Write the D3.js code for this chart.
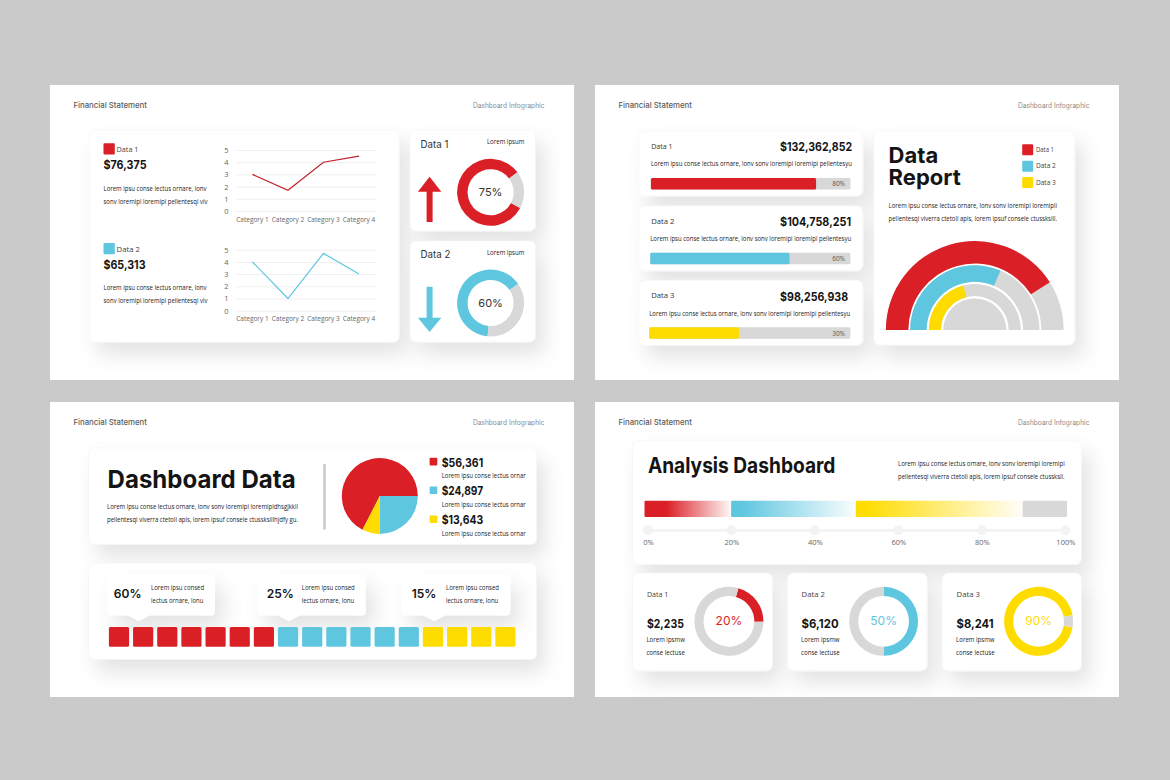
<!DOCTYPE html>
<html>
<head>
<meta charset="utf-8">
<script src="https://cdn.jsdelivr.net/npm/d3@7"></script>
<style>
    html, body { margin: 0; padding: 0; background: #cacaca; }
    svg { display: block; }
    .axis .domain { display: none; }
    .axis text { font-family: "Open Sans", sans-serif; fill: #666; }
    .grid line { stroke: #efefef; stroke-width: 1; }
</style>
</head>
<body>
<div id="chart"></div>
<script>
// colours
var red = "#da1f26";
var blue = "#5fc6e0";
var yellow = "#ffdc00";
var gray = "#d8d8d8";
var dark = "#141414";

// top left: line charts and donuts
var categories = ["Category 1", "Category 2", "Category 3", "Category 4"];
var lineTicks = [0, 1, 2, 3, 4, 5];
var line1Values = [3, 1.7, 4, 4.5];
var line2Values = [4, 1, 4.7, 3];
var line1Total = "$76,375";
var line2Total = "$65,313";
var topDonut1Share = [82, 18];
var topDonut2Share = [64, 36];
var topDonutLabels = ["75%", "60%"];

// top right: progress bars and half rings
var barNames = ["Data 1", "Data 2", "Data 3"];
var barTotals = ["$132,362,852", "$104,758,251", "$98,256,938"];
var barValues = [82.8, 69.6, 44.6];
var barLabels = ["80%", "60%", "30%"];
var ringValues = [82, 63, 42];

// bottom left: pie and waffle
var pieValues = [67.5, 25, 7.5];
var pieTotals = ["$56,361", "$24,897", "$13,643"];
var waffleCounts = [7, 6, 4];
var calloutLabels = ["60%", "25%", "15%"];

// bottom right: stacked gradient bar and donuts
var stackValues = [20.5, 29.5, 39.5, 10.5];
var stackTicks = [0, 20, 40, 60, 80, 100];
var smallNames = ["Data 1", "Data 2", "Data 3"];
var smallTotals = ["$2,235", "$6,120", "$8,241"];
var smallShares = [20.8, 50, 94.4];
var smallLabels = ["20%", "50%", "90%"];

var svg = d3.select("#chart")
    .append("svg")
    .attr("width", 1170)
    .attr("height", 780);

var defs = svg.append("defs");

var shadow = defs.append("filter")
    .attr("id", "shadow")
    .attr("x", "-20%").attr("y", "-25%")
    .attr("width", "150%").attr("height", "175%");
shadow.append("feDropShadow")
    .attr("dx", 8).attr("dy", 12)
    .attr("stdDeviation", 10)
    .attr("flood-color", "#000")
    .attr("flood-opacity", 0.11);

var TAU = Math.PI * 2;
var bodyFont = '"Open Sans", sans-serif';
var headFont = 'Inter, sans-serif';

// y is the vertical centre of the text unless o.baseline is set
function label(x, y, str, o) {
    o = o || {};
    var t = svg.append("text")
        .attr("x", x)
        .attr("y", y)
        .attr("font-family", o.family || bodyFont)
        .attr("font-size", o.size || 6.2)
        .attr("font-weight", o.weight || 400)
        .attr("fill", o.fill || "#222")
        .attr("text-anchor", o.anchor || "start")
        .text(str);
    if (!o.baseline) t.attr("dominant-baseline", "central");
    if (o.width) t.attr("textLength", o.width).attr("lengthAdjust", "spacingAndGlyphs");
    return t;
}

// "Data 1" is a bit narrower than the others in the reference
function nameWidth(name, wide) {
    return name == "Data 1" ? wide - 1.9 : wide;
}

function card(x0, y0, x1, y1) {
    svg.append("rect")
        .attr("x", x0).attr("y", y0)
        .attr("width", x1 - x0).attr("height", y1 - y0)
        .attr("rx", 6)
        .attr("fill", "#fff")
        .attr("stroke", "#f3f3f3")
        .attr("stroke-width", 0.6)
        .attr("filter", "url(#shadow)");
}

function slide(x, y) {
    svg.append("rect")
        .attr("x", x).attr("y", y)
        .attr("width", 524).attr("height", 295)
        .attr("fill", "#fff");
    label(x + 23.4, y + 20, "Financial Statement", {size: 8, weight: 500, fill: "#5c5c5c", family: headFont, width: 73.6});
    label(x + 494.5, y + 20, "Dashboard Infographic", {size: 7, fill: "#8c8c8c", anchor: "end", family: headFont, width: 71.6});
}

function swatch(x, y, size, color) {
    svg.append("rect")
        .attr("x", x).attr("y", y)
        .attr("width", size).attr("height", size)
        .attr("rx", 1)
        .attr("fill", color);
}

// two slice donut; start is in degrees clockwise from the top
function donut(cx, cy, outer, inner, share, color, start) {
    var pie = d3.pie().sort(null)
        .startAngle(start * Math.PI / 180)
        .endAngle(start * Math.PI / 180 + TAU);
    var arc = d3.arc().innerRadius(inner).outerRadius(outer);
    svg.append("g")
        .attr("transform", "translate(" + cx + "," + cy + ")")
        .selectAll("path")
        .data(pie(share))
        .enter()
        .append("path")
        .attr("d", arc)
        .attr("fill", function(d, i) { return i == 0 ? color : gray; });
}

function lineChart(values, top, color) {
    var x = d3.scaleBand().domain(categories).range([234.7, 376.7]);
    var y = d3.scaleLinear().domain([0, 5]).range([top + 61, top]);

    var yAxis = svg.append("g")
        .attr("class", "axis grid")
        .attr("transform", "translate(235.8,0)")
        .call(d3.axisLeft(y).tickValues(lineTicks).tickFormat(d3.format("d")).tickSize(-140.6));
    yAxis.selectAll("text")
        .attr("font-size", 7.5)
        .attr("text-anchor", "middle")
        .attr("x", -9.4);

    svg.append("g")
        .attr("class", "axis")
        .attr("transform", "translate(0," + (top + 61) + ")")
        .call(d3.axisBottom(x).tickSize(0).tickPadding(6))
        .selectAll("text")
        .attr("font-size", 6.5);

    var line = d3.line()
        .x(function(d, i) { return x(categories[i]) + x.bandwidth() / 2; })
        .y(function(d) { return y(d); });

    svg.append("path")
        .datum(values)
        .attr("d", line)
        .attr("fill", "none")
        .attr("stroke", color)
        .attr("stroke-width", 1.2);
}

function arrow(cx, y0, yBase, y1, color) {
    var p = d3.path();
    p.moveTo(cx, y0);
    p.lineTo(cx + 11.7, yBase);
    p.lineTo(cx + 3, yBase);
    p.lineTo(cx + 3, y1);
    p.lineTo(cx - 3, y1);
    p.lineTo(cx - 3, yBase);
    p.lineTo(cx - 11.7, yBase);
    p.closePath();
    svg.append("path").attr("d", p.toString()).attr("fill", color);
}

// ---- top left slide
slide(50, 85);
card(89.2, 130, 399, 342);
card(410, 130, 535.5, 231);
card(410, 241, 535.5, 342);

swatch(103.5, 143.2, 11.3, red);
label(116.6, 148.3, "Data 1", {size: 8, fill: "#444", width: 21.8});
label(103.5, 169.3, line1Total, {size: 12, weight: 700, family: headFont, fill: dark, baseline: true, width: 43});
label(103.5, 188.7, "Lorem ipsu conse lectus ornare, lonv", {width: 103});
label(103.5, 201.7, "sonv loremipi loremipi pellentesqi viv", {width: 104});
lineChart(line1Values, 150, "#c0202a");

swatch(103.5, 243, 11.3, blue);
label(116.6, 248, "Data 2", {size: 8, fill: "#444", width: 23.4});
label(103.5, 269, line2Total, {size: 12, weight: 700, family: headFont, fill: dark, baseline: true, width: 42});
label(103.5, 287.3, "Lorem ipsu conse lectus ornare, lonv", {width: 103});
label(103.5, 300.7, "sonv loremipi loremipi pellentesqi viv", {width: 104});
lineChart(line2Values, 249.7, blue);

label(420.6, 144, "Data 1", {size: 10.5, family: headFont, fill: "#333", width: 27.8});
label(524.4, 141.7, "Lorem ipsum", {anchor: "end", width: 37.5});
arrow(429.6, 176.7, 191.7, 222, red);
donut(490.6, 192.3, 33.5, 23, topDonut1Share, red, 118);
label(490.6, 192.3, topDonutLabels[0], {size: 11, anchor: "middle", family: headFont, fill: "#333"});

label(420.6, 254.7, "Data 2", {size: 10.5, family: headFont, fill: "#333", width: 29.8});
label(524.4, 252.7, "Lorem ipsum", {anchor: "end", width: 37.5});
// down arrow is drawn tip first, same helper with y running the other way
arrow(429.6, 332, 317.7, 286.7, blue);
donut(490.6, 303, 33.5, 23, topDonut2Share, blue, 185);
label(490.6, 303, topDonutLabels[1], {size: 11, anchor: "middle", family: headFont, fill: "#333"});

// ---- top right slide
slide(595, 85);
var rowTops = [131, 205.7, 280.3];
var trackStart = [650.9, 650.2, 649.2];
var totalWidth = [72, 71, 68];
var barColors = [red, blue, yellow];

rowTops.forEach(function(top, i) {
    card(639, top, 862.8, top + 65);
    label(651.2, top + 14.3, barNames[i], {size: 8, fill: "#333", width: nameWidth(barNames[i], 23.2)});
    label(780.1, top + 15.7, barTotals[i], {size: 12, weight: 700, family: headFont, fill: dark, width: totalWidth[i]});
    label(trackStart[i], top + 32.7, "Lorem ipsu conse lectus ornare, lonv sonv loremipi loremipi pellentesyu", {width: 201});

    var x = d3.scaleLinear().domain([0, 100]).range([trackStart[i], 850.4]);
    svg.append("rect")
        .attr("x", x(0)).attr("y", top + 47)
        .attr("width", x(100) - x(0)).attr("height", 11.5)
        .attr("rx", 1.5)
        .attr("fill", gray);
    svg.append("rect")
        .attr("x", x(0)).attr("y", top + 47)
        .attr("width", x(barValues[i]) - x(0)).attr("height", 11.5)
        .attr("rx", 1.5)
        .attr("fill", barColors[i]);
    label(845, top + 52.7, barLabels[i], {size: 6.5, anchor: "end", fill: "#555"});
});

card(873.9, 131, 1074.7, 345);

// title wraps over two lines inside one text
var reportTitle = svg.append("text")
    .attr("font-family", headFont)
    .attr("font-size", 22)
    .attr("font-weight", 700)
    .attr("fill", dark);
reportTitle.append("tspan").attr("x", 888.6).attr("y", 163.3).text("Data");
reportTitle.append("tspan").attr("x", 888.6).attr("y", 184.7).text("Report");

label(888.6, 205.7, "Lorem ipsu conse lectus ornare, lonv sonv loremipi loremipli", {width: 168.4});
label(888.6, 218.7, "pellentesqi viverra ctetoli apis, lorem ipsuf consele ctussksill.", {width: 168.4});

barNames.forEach(function(name, i) {
    var y = 144.3 + i * 16.35;
    swatch(1022.2, y, 11, barColors[i]);
    label(1035.9, y + 5.2, name, {size: 6.5, fill: "#444", width: nameWidth(name, 20)});
});

// half rings, angle scale runs from left to right over the top
var ringAngle = d3.scaleLinear().domain([0, 100]).range([-Math.PI / 2, Math.PI / 2]);
var ringRadii = [[66.5, 88.9], [48.2, 64.7], [33.9, 46]];
var ringGroup = svg.append("g").attr("transform", "translate(974.8,330)");

ringValues.forEach(function(v, i) {
    var arc = d3.arc()
        .innerRadius(ringRadii[i][0])
        .outerRadius(ringRadii[i][1]);
    ringGroup.append("path")
        .attr("d", arc({startAngle: ringAngle(0), endAngle: ringAngle(100)}))
        .attr("fill", gray);
    ringGroup.append("path")
        .attr("d", arc({startAngle: ringAngle(0), endAngle: ringAngle(v)}))
        .attr("fill", barColors[i]);
});
ringGroup.append("path")
    .attr("d", d3.arc().innerRadius(0).outerRadius(31.6)({startAngle: ringAngle(0), endAngle: ringAngle(100)}))
    .attr("fill", gray);

// ---- bottom left slide
slide(50, 402);
card(88.5, 448, 536.5, 544.5);
card(88.5, 563, 536.5, 659.5);

label(107.6, 488, "Dashboard Data", {size: 24.5, weight: 700, family: headFont, fill: dark, baseline: true, width: 188});
label(107, 506.3, "Lorem ipsu conse lectus ornare, lonv sonv loremipi loremipidhsgjkkli", {width: 191});
label(107, 519.3, "pellentesqi viverra ctetoli apis, lorem ipsuf consele ctussksillhjdfy gu.", {width: 191});

svg.append("rect")
    .attr("x", 323.3).attr("y", 464)
    .attr("width", 2.4).attr("height", 65.5)
    .attr("fill", "#c8c8c8");

var pie = d3.pie().sort(null)
    .startAngle(207 * Math.PI / 180)
    .endAngle(207 * Math.PI / 180 + TAU);
svg.append("g")
    .attr("transform", "translate(379.8,496)")
    .selectAll("path")
    .data(pie(pieValues))
    .enter()
    .append("path")
    .attr("d", d3.arc().innerRadius(0).outerRadius(38))
    .attr("fill", function(d, i) { return barColors[i]; });

var legendTops = [457.7, 486.4, 515.4];
pieTotals.forEach(function(total, i) {
    swatch(429.6, legendTops[i], 7.7, barColors[i]);
    label(441.7, legendTops[i] + 4.4, total, {size: 12, weight: 700, family: headFont, fill: dark, width: 41.5});
    label(441.7, legendTops[i] + 17.8, "Lorem ipsu conse lectus ornar", {width: 84});
});

// callouts above the waffle
var calloutBox = [[107.6, 215], [257.6, 365.7], [401.5, 510.3]];
var calloutTip = [138.7, 289, 434];
var calloutPct = [127.7, 280.3, 424];
var calloutText = [151.1, 301.8, 446];

calloutLabels.forEach(function(pct, i) {
    var p = d3.path();
    var x0 = calloutBox[i][0], x1 = calloutBox[i][1], tip = calloutTip[i];
    p.moveTo(x0 + 4, 574.3);
    p.lineTo(x1 - 4, 574.3);
    p.quadraticCurveTo(x1, 574.3, x1, 578.3);
    p.lineTo(x1, 611.3);
    p.quadraticCurveTo(x1, 615.3, x1 - 4, 615.3);
    p.lineTo(tip + 11, 615.3);
    p.lineTo(tip, 621);
    p.lineTo(tip - 11, 615.3);
    p.lineTo(x0 + 4, 615.3);
    p.quadraticCurveTo(x0, 615.3, x0, 611.3);
    p.lineTo(x0, 578.3);
    p.quadraticCurveTo(x0, 574.3, x0 + 4, 574.3);
    svg.append("path")
        .attr("d", p.toString())
        .attr("fill", "#fff")
        .attr("filter", "url(#shadow)");
    label(calloutPct[i], 593.7, pct, {size: 12, weight: 600, family: headFont, fill: dark, anchor: "middle"});
    label(calloutText[i], 587.7, "Lorem ipsu consed", {width: 53});
    label(calloutText[i], 600.7, "lectus ornare, lonu", {width: 52.3});
});

// one square per unit, coloured by group
var waffleCells = [];
waffleCounts.forEach(function(n, g) {
    d3.range(n).forEach(function() { waffleCells.push(g); });
});
var waffleX = d3.scaleBand()
    .domain(d3.range(waffleCells.length))
    .range([108.9, 515.5])
    .paddingInner(0.165)
    .paddingOuter(0);

svg.append("g")
    .selectAll("rect")
    .data(waffleCells)
    .enter()
    .append("rect")
    .attr("x", function(d, i) { return waffleX(i); })
    .attr("y", 627)
    .attr("width", waffleX.bandwidth())
    .attr("height", 19.7)
    .attr("rx", 1.5)
    .attr("fill", function(d) { return barColors[d]; });

// ---- bottom right slide
slide(595, 402);
card(632.5, 440.7, 1081.4, 564.3);
card(632.5, 573, 772.4, 670.7);
card(787.5, 573, 927.1, 670.7);
card(942.2, 573, 1081.4, 670.7);

label(647.9, 472.7, "Analysis Dashboard", {size: 21.5, weight: 700, family: headFont, fill: dark, baseline: true, width: 187.5});
label(898, 463.3, "Lorem ipsu conse lectus ornare, lonv sonv loremipi loremipi", {width: 166.7});
label(898, 476.3, "pellentesqi viverra ctetoli apis, lorem ipsuf consele ctussksil.", {width: 166.7});

// gradients for the stacked bar, colour fades out to the right
[["fadeRed", red, 0.25], ["fadeBlue", blue, 0.08], ["fadeYellow", yellow, 0.05]].forEach(function(g) {
    var grad = defs.append("linearGradient").attr("id", g[0]);
    grad.append("stop").attr("offset", g[2]).attr("stop-color", g[1]);
    grad.append("stop").attr("offset", 1).attr("stop-color", g[1]).attr("stop-opacity", 0.03);
});

var stackFill = ["url(#fadeRed)", "url(#fadeBlue)", "url(#fadeYellow)", gray];
var stackX = d3.scaleLinear().domain([0, 100]).range([644.5, 1067]);
var stackEnds = d3.cumsum(stackValues);

svg.append("g")
    .selectAll("rect")
    .data(stackValues)
    .enter()
    .append("rect")
    .attr("x", function(d, i) { return stackX(stackEnds[i] - d); })
    .attr("y", 500.7)
    .attr("width", function(d) { return stackX(d) - stackX(0); })
    .attr("height", 16.3)
    .attr("rx", 1)
    .attr("fill", function(d, i) { return stackFill[i]; });

var pctX = d3.scaleLinear().domain([0, 100]).range([647.9, 1065.4]);

svg.append("rect")
    .attr("x", pctX(0)).attr("y", 529)
    .attr("width", pctX(100) - pctX(0)).attr("height", 2.8)
    .attr("fill", "#f3f3f3");

svg.append("g")
    .selectAll("circle")
    .data(stackTicks)
    .enter()
    .append("circle")
    .attr("cx", function(d) { return pctX(d); })
    .attr("cy", 530.3)
    .attr("r", 5)
    .attr("fill", "#f3f3f3");

var pctAxis = svg.append("g")
    .attr("class", "axis")
    .attr("transform", "translate(0,537)")
    .call(d3.axisBottom(pctX)
        .tickValues(stackTicks)
        .tickSize(0)
        .tickPadding(3)
        .tickFormat(function(d) { return d + "%"; }));
pctAxis.selectAll("text").attr("font-size", 7.5);

var smallCenters = [728.9, 883.6, 1038.6];
var smallText = [646.9, 801.6, 956.6];
var smallStart = [16, 0, 100];

smallNames.forEach(function(name, i) {
    label(smallText[i], 593.3, name, {size: 8, fill: "#444", width: nameWidth(name, 23.4)});
    label(smallText[i], 623.7, smallTotals[i], {size: 12, weight: 700, family: headFont, fill: dark, width: 37});
    label(smallText[i] - 0.5, 639.3, "Lorem ipsmw", {width: 38.5});
    label(smallText[i] - 0.5, 652.7, "conse lectuse", {width: 38.5});
    donut(smallCenters[i], 621.3, 34.5, 25.4, [smallShares[i], 100 - smallShares[i]], barColors[i], smallStart[i]);
    label(smallCenters[i], 620.5, smallLabels[i], {size: 12, anchor: "middle", family: headFont, fill: barColors[i]});
});
</script>
</body>
</html>
